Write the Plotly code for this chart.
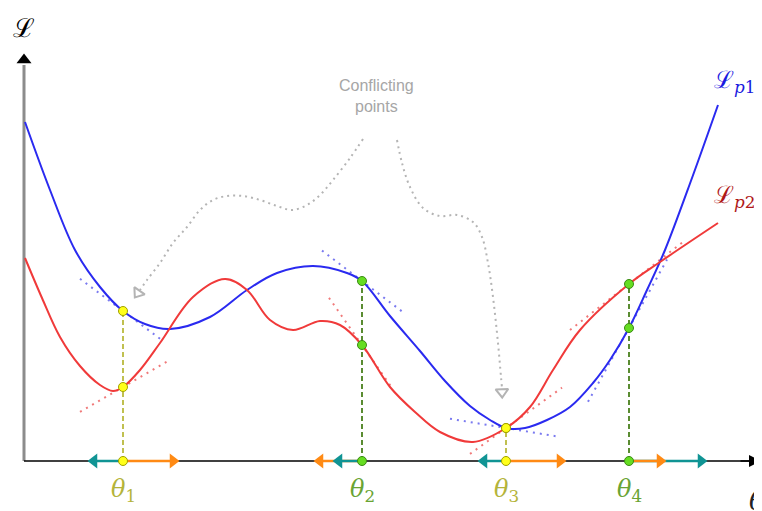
import plotly.graph_objects as go

# ---- data (theta = horizontal position, L = loss value) ----
blue_theta = [1, 26, 51, 76, 99, 121, 146, 186, 223, 253, 289, 323, 338, 366, 396, 421, 446,
              466, 482, 501, 523, 546, 569, 586, 605, 623, 641, 668, 694]
blue_L = [339, 271, 211, 174, 150, 137, 132, 144, 171, 188, 195, 188, 180, 145, 110, 80, 55,
          41, 33, 33, 41, 54, 78, 101, 133, 171, 211, 283, 356]
red_theta = [1, 18, 36, 56, 76, 89, 99, 116, 136, 169, 201, 223, 246, 269, 296, 316, 338, 366,
             391, 416, 449, 482, 506, 529, 556, 605, 636, 694]
red_L = [203, 163, 124, 95, 76, 70, 74, 91, 118, 164, 182, 171, 141, 131, 140, 136, 116, 74,
         49, 29, 19, 33, 54, 91, 131, 177, 199, 238]

points_theta = [99, 338, 482, 605]
points_blue_L = [150, 180, 33, 133]
points_red_L = [74, 116, 33, 177]
point_labels = ["1", "2", "3", "4"]
point_kind = ["conflict", "agree", "conflict", "agree"]

blue_slope = [-0.75, -0.76, -0.165, 1.8]
blue_ext = [(-43, 39), (-40, 43), (-56, 54), (-41, 38)]
red_slope = [0.58, -1.43, 0.72, 0.78]
red_ext = [(-43, 47), (-33, 31), (-36, 56), (-59, 56)]

teal_step = [-36, -30, -29, 79]
orange_step = [57, -49, 61, 38]

left_path_theta = [339, 326, 309, 296, 283, 268, 253, 236, 219, 203, 189, 176, 163, 149, 136, 123, 116]
left_path_L = [322, 303, 281, 266, 256, 251, 255, 261, 265, 265, 261, 251, 234, 218, 198, 181, 171]
right_path_theta = [373, 378, 386, 399, 416, 433, 449, 458, 464, 469, 474, 477, 478]
right_path_L = [321, 298, 274, 253, 245, 246, 239, 224, 198, 164, 118, 84, 73]

BLUE = "#2a2af0"
RED = "#f03a3a"
BLUE_T = "#7a7af0"
RED_T = "#f07a7a"
TEAL = "#109494"
ORANGE = "#ff8a14"
YELLOW_TXT = "#b4b43a"
GREEN_TXT = "#6aa434"
HEAD = 7  # arrow head offset (data units)

fig = go.Figure()

# axes (below traces)
fig.add_shape(type="line", x0=0, y0=0, x1=0, y1=396, layer="below", line=dict(color="#8c8c8c", width=3))
fig.add_shape(type="line", x0=0, y0=0, x1=725, y1=0, layer="below", line=dict(color="black", width=1.5))
fig.add_trace(go.Scatter(x=[0], y=[401], mode="markers",
                         marker=dict(symbol="triangle-up", size=13, color="black")))
fig.add_annotation(x=737, y=0, ax=715, ay=0, axref="x", ayref="y", xref="x", yref="y",
                   showarrow=True, arrowhead=2, arrowsize=1.6, arrowwidth=1.5, arrowcolor="black", text="")

# tangents
for i, t in enumerate(points_theta):
    for slope, ext, L0, col in [(blue_slope[i], blue_ext[i], points_blue_L[i], BLUE_T),
                                (red_slope[i], red_ext[i], points_red_L[i], RED_T)]:
        fig.add_trace(go.Scatter(x=[t + ext[0], t + ext[1]],
                                 y=[L0 + slope * ext[0], L0 + slope * ext[1]],
                                 mode="lines", line=dict(color=col, width=2, dash="2px,5px"),
                                 hoverinfo="skip"))

# curves
fig.add_trace(go.Scatter(x=blue_theta, y=blue_L, mode="lines", line=dict(color=BLUE, width=2, shape="spline", smoothing=1)))
fig.add_trace(go.Scatter(x=red_theta, y=red_L, mode="lines", line=dict(color=RED, width=2, shape="spline", smoothing=1)))

# gray dotted paths
fig.add_trace(go.Scatter(x=left_path_theta, y=left_path_L, mode="lines",
                         line=dict(color="#b4b4b4", width=2, dash="2px,4px", shape="spline")))
fig.add_trace(go.Scatter(x=right_path_theta, y=right_path_L, mode="lines",
                         line=dict(color="#b4b4b4", width=2, dash="2px,4px", shape="spline")))
fig.add_trace(go.Scatter(x=[left_path_theta[-1] - 2, right_path_theta[-1]],
                         y=[left_path_L[-1] - 3, right_path_L[-1] - 4], mode="markers",
                         marker=dict(symbol="triangle-up", size=11, color="white", angle=[215, 178],
                                     line=dict(color="#b4b4b4", width=2))))

# vertical dashed lines, gradient arrows and markers
for i, t in enumerate(points_theta):
    conflict = point_kind[i] == "conflict"
    dcol = "#c0c050" if conflict else "#5a8c32"
    top = max(points_blue_L[i], points_red_L[i])
    fig.add_trace(go.Scatter(x=[t, t], y=[0, top], mode="lines",
                             line=dict(color=dcol, width=2, dash="5px,3px")))
    arrows = [(teal_step[i], TEAL), (orange_step[i], ORANGE)]
    arrows.sort(key=lambda a: -abs(a[0]))
    for step, col in arrows:
        sgn = 1 if step > 0 else -1
        fig.add_trace(go.Scatter(x=[t, t + step - sgn * HEAD], y=[0, 0], mode="lines",
                                 line=dict(color=col, width=2.5)))
        fig.add_trace(go.Scatter(x=[t + step - sgn * HEAD], y=[0], mode="markers",
                                 marker=dict(symbol="triangle-right" if sgn > 0 else "triangle-left",
                                             size=13, color=col)))
    fill = "#ffff1a" if conflict else "#66dd22"
    edge = "#a0a000" if conflict else "#3a8a14"
    fig.add_trace(go.Scatter(x=[t, t, t], y=[0, points_blue_L[i], points_red_L[i]], mode="markers",
                             marker=dict(size=9, color=fill, line=dict(color=edge, width=1))))
    fig.add_annotation(x=t, y=-29, text="<i>θ</i><sub>" + point_labels[i] + "</sub>", showarrow=False,
                       font=dict(family="DejaVu Serif", size=24, color=YELLOW_TXT if conflict else GREEN_TXT))

# texts
fig.add_annotation(x=352, y=365, text="Conflicting<br>points", showarrow=False,
                   font=dict(family="Liberation Sans", size=16, color="#a6a6a6"))
fig.add_annotation(x=0, y=433, text="ℒ", showarrow=False,
                   font=dict(family="DejaVu Serif", size=26, color="black"))
fig.add_annotation(x=688, y=380, xanchor="left", text="ℒ<sub><i>p</i></sub><sub>1</sub>", showarrow=False,
                   font=dict(family="DejaVu Serif", size=24, color="#1a1ae0"))
fig.add_annotation(x=688, y=265, xanchor="left", text="ℒ<sub><i>p</i></sub><sub>2</sub>", showarrow=False,
                   font=dict(family="DejaVu Serif", size=24, color="#b01818"))
fig.add_annotation(x=723, y=-40, text="<i>θ</i>", showarrow=False, xanchor="left",
                   font=dict(family="DejaVu Serif", size=26, color="#222222"))

fig.update_layout(width=762, height=511, margin=dict(l=0, r=0, t=0, b=0),
                  paper_bgcolor="white", plot_bgcolor="white", showlegend=False,
                  xaxis=dict(range=[-16, 746], visible=False, fixedrange=True),
                  yaxis=dict(range=[-58, 453], visible=False, fixedrange=True))

fig.write_html("out.html")
